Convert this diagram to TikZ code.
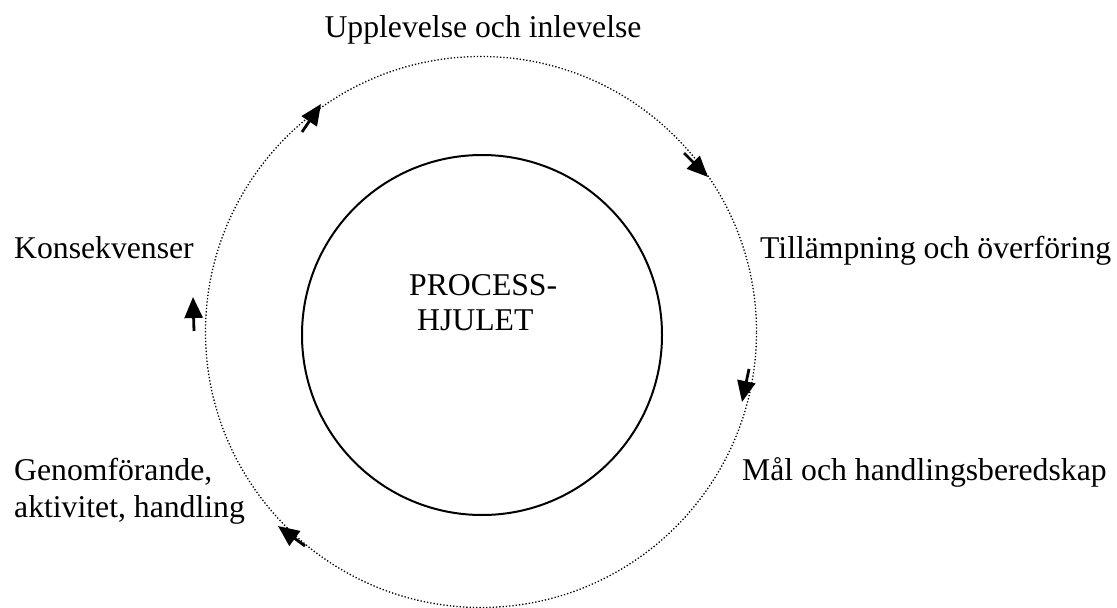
\documentclass[tikz,border=0pt]{standalone}
\usepackage{fontspec}
\setmainfont{Liberation Serif}
\usetikzlibrary{arrows.meta}
\begin{document}
\begin{tikzpicture}[x=1pt,y=-1pt,
  lbl/.style={inner sep=0pt, font=\fontsize{31.7}{37}\selectfont},
  wheel/.style={draw, circle, inner sep=0pt, line width=2pt},
  ring/.style={draw, circle, inner sep=0pt, line width=1.3pt, dash pattern=on 1.3pt off 2pt},
  flow/.style={line width=2.8pt, -{Triangle[length=21pt,width=18pt]}}
]
\useasboundingbox (0,0) rectangle (1117,608);

% the dotted cycle and the wheel in its middle
\node[ring, minimum size=551pt] (ring) at (481,332) {};
\node[wheel, minimum size=360pt] (hub) at (482,335) {};

% wheel title
\node[lbl, anchor=base west] (hubA) at (409,295) {PROCESS-};
\node[lbl, anchor=base west] (hubB) at (417,330) {HJULET};

% stages of the cycle
\node[lbl, anchor=base] (exp) at (483,37) {Upplevelse och inlevelse};
\node[lbl, anchor=base west] (app) at (760,258) {Tillämpning och överföring};
\node[lbl, anchor=base west] (goal) at (742,480) {Mål och handlingsberedskap};
\node[lbl, anchor=base west] (actA) at (14,480) {Genomförande,};
\node[lbl, anchor=base west] (actB) at (14,517) {aktivitet, handling};
\node[lbl, anchor=base west] (cons) at (14,258) {Konsekvenser};

% clockwise direction markers on the ring
\coordinate (a1s) at (302,132); \coordinate (a1e) at (321,104);
\coordinate (a2s) at (684,153); \coordinate (a2e) at (708,177);
\coordinate (a3s) at (749,369); \coordinate (a3e) at (742,402);
\coordinate (a4s) at (305,546); \coordinate (a4e) at (278,526);
\coordinate (a5s) at (194,331); \coordinate (a5e) at (193,297);
\draw[flow] (a1s) -- (a1e);
\draw[flow] (a2s) -- (a2e);
\draw[flow] (a3s) -- (a3e);
\draw[flow] (a4s) -- (a4e);
\draw[flow] (a5s) -- (a5e);
\end{tikzpicture}
\end{document}
